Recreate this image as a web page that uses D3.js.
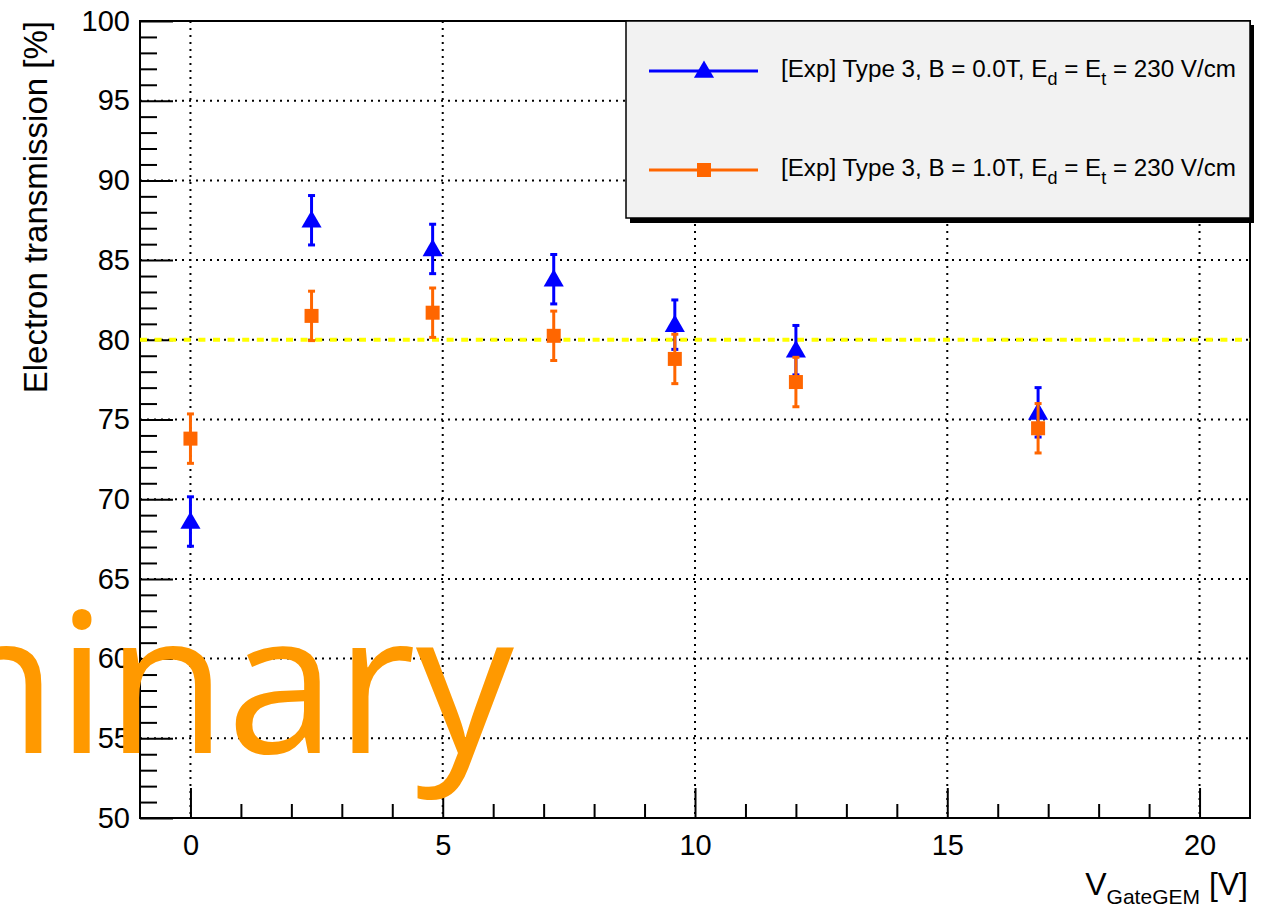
<!DOCTYPE html>
<meta charset="utf-8">
<head>
    <title>Electron transmission vs V_GateGEM</title>
    <script src="https://cdn.jsdelivr.net/npm/d3@7"></script>
</head>

<style>
    body { margin: 0; background: white; }
    svg { font-family: "Liberation Sans", Arial, Helvetica, sans-serif; }
    .grid line { stroke: black; stroke-width: 2; stroke-dasharray: 2,5; }
    .axis path, .axis line { stroke: black; stroke-width: 2; }
    .axis text { font-size: 29px; fill: black; font-family: "Liberation Sans", Arial, sans-serif; }
</style>

<svg width="1277" height="912"></svg>

<script>
    // data
    var vGate = [0, 2.4, 4.8, 7.2, 9.6, 12, 16.8];
    var transB0 = [68.6, 87.5, 85.7, 83.8, 80.95, 79.35, 75.45];
    var errB0 = [1.55, 1.55, 1.55, 1.55, 1.55, 1.55, 1.55];
    var transB1 = [73.8, 81.5, 81.7, 80.25, 78.8, 77.35, 74.45];
    var errB1 = [1.55, 1.55, 1.55, 1.55, 1.55, 1.55, 1.55];
    var xMajor = [0, 5, 10, 15, 20];
    var xMinor = [1, 2, 3, 4, 6, 7, 8, 9, 11, 12, 13, 14, 16, 17, 18, 19];
    var yMajor = [50, 55, 60, 65, 70, 75, 80, 85, 90, 95, 100];
    var refLevel = 80;
    var legendText = [
        ["[Exp] Type 3, B = 0.0T, E", "d", " = E", "t", " = 230 V/cm"],
        ["[Exp] Type 3, B = 1.0T, E", "d", " = E", "t", " = 230 V/cm"]
    ];

    var pad = {l: 140, r: 1250, t: 21, b: 818};
    var svg = d3.select('svg');

    var x = d3.scaleLinear().domain([-1, 21]).range([pad.l, pad.r]);
    var y = d3.scaleLinear().domain([50, 100]).range([pad.b, pad.t]);
    var yMinor = d3.range(50, 101, 1).filter(function (v) { return v % 5 !== 0; });

    // grid
    var grid = svg.append('g').attr('class', 'grid');
    grid.selectAll('.gx').data(xMajor).enter().append('line')
        .attr('x1', function (d) { return x(d); }).attr('x2', function (d) { return x(d); })
        .attr('y1', pad.t).attr('y2', pad.b);
    grid.selectAll('.gy').data(yMajor.slice(1, -1)).enter().append('line')
        .attr('x1', pad.l).attr('x2', pad.r)
        .attr('y1', function (d) { return y(d); }).attr('y2', function (d) { return y(d); });

    // axes (ticks pointing inside)
    svg.append('g').attr('class', 'axis')
        .attr('transform', 'translate(0,' + pad.b + ')')
        .call(d3.axisBottom(x).tickValues(xMajor).tickSize(-30).tickPadding(11).tickFormat(d3.format('d')))
        .call(function (g) { g.select('.domain').remove(); })
        .selectAll('text').attr('dy', '0.9em');
    svg.append('g').attr('class', 'axis')
        .attr('transform', 'translate(0,' + pad.b + ')')
        .call(d3.axisBottom(x).tickValues(xMinor).tickSize(-14).tickFormat(''))
        .call(function (g) { g.select('.domain').remove(); });
    svg.append('g').attr('class', 'axis')
        .attr('transform', 'translate(' + pad.l + ',0)')
        .call(d3.axisLeft(y).tickValues(yMajor).tickSize(-33).tickPadding(10).tickFormat(d3.format('d')))
        .call(function (g) { g.select('.domain').remove(); });
    svg.append('g').attr('class', 'axis')
        .attr('transform', 'translate(' + pad.l + ',0)')
        .call(d3.axisLeft(y).tickValues(yMinor).tickSize(-17).tickFormat(''))
        .call(function (g) { g.select('.domain').remove(); });

    // frame
    svg.append('rect')
        .attr('x', pad.l).attr('y', pad.t).attr('width', pad.r - pad.l).attr('height', pad.b - pad.t)
        .attr('fill', 'none').attr('stroke', 'black').attr('stroke-width', 2);

    // 80% reference
    svg.append('line')
        .attr('x1', pad.l).attr('x2', pad.r).attr('y1', y(refLevel)).attr('y2', y(refLevel))
        .attr('stroke', '#ffff00').attr('stroke-width', 4).attr('stroke-dasharray', '7,7.6');

    var triangle = d3.symbol().type(d3.symbolTriangle).size(175);

    function drawSeries(vals, errs, color, marker) {
        var pts = vGate.map(function (v, i) { return {x: v, y: vals[i], e: errs[i]}; });
        var g = svg.append('g');
        var bars = g.selectAll('g.pt').data(pts).enter().append('g');
        bars.append('line')
            .attr('x1', function (d) { return x(d.x); }).attr('x2', function (d) { return x(d.x); })
            .attr('y1', function (d) { return y(d.y - d.e); }).attr('y2', function (d) { return y(d.y + d.e); })
            .attr('stroke', color).attr('stroke-width', 3);
        [1, -1].forEach(function (s) {
            bars.append('line')
                .attr('x1', function (d) { return x(d.x) - 3.5; }).attr('x2', function (d) { return x(d.x) + 3.5; })
                .attr('y1', function (d) { return y(d.y + s * d.e); }).attr('y2', function (d) { return y(d.y + s * d.e); })
                .attr('stroke', color).attr('stroke-width', 3);
        });
        if (marker === 'tri') {
            bars.append('path').attr('d', triangle)
                .attr('transform', function (d) { return 'translate(' + x(d.x) + ',' + (y(d.y) + 1.5) + ')'; })
                .attr('fill', color);
        } else {
            bars.append('rect')
                .attr('x', function (d) { return x(d.x) - 7; }).attr('y', function (d) { return y(d.y) - 7; })
                .attr('width', 14).attr('height', 14).attr('fill', color);
        }
    }
    drawSeries(transB0, errB0, '#0000ff', 'tri');
    drawSeries(transB1, errB1, '#ff6600', 'sq');

    // legend
    var lg = svg.append('g');
    lg.append('rect').attr('x', 630).attr('y', 25).attr('width', 624).attr('height', 198).attr('fill', 'black');
    lg.append('rect').attr('x', 626).attr('y', 21).attr('width', 624).attr('height', 197)
        .attr('fill', '#f2f2f2').attr('stroke', 'black').attr('stroke-width', 1.5);
    var entries = [{c: '#0000ff', m: 'tri', yy: 71}, {c: '#ff6600', m: 'sq', yy: 170}];
    entries.forEach(function (e, i) {
        lg.append('line').attr('x1', 649).attr('x2', 758).attr('y1', e.yy).attr('y2', e.yy)
            .attr('stroke', e.c).attr('stroke-width', 3);
        if (e.m === 'tri') {
            lg.append('path').attr('d', triangle).attr('transform', 'translate(704,' + (e.yy + 1) + ')').attr('fill', e.c);
        } else {
            lg.append('rect').attr('x', 697).attr('y', e.yy - 7).attr('width', 14).attr('height', 14).attr('fill', e.c);
        }
        var t = lg.append('text').attr('x', 781).attr('y', e.yy + 6).attr('font-size', 24.2);
        legendText[i].forEach(function (s, k) {
            var sp = t.append('tspan').text(s);
            if (k % 2 === 1) sp.attr('font-size', 18).attr('dy', 8);
            else if (k > 0) sp.attr('dy', -8);
        });
    });

    // axis titles
    svg.append('text')
        .attr('transform', 'translate(47,' + pad.t + ') rotate(-90)')
        .attr('text-anchor', 'end').attr('font-size', 33)
        .text('Electron transmission [%]');
    var xt = svg.append('text').attr('x', pad.r - 2).attr('y', 895).attr('text-anchor', 'end').attr('font-size', 32);
    xt.append('tspan').text('V');
    xt.append('tspan').text('GateGEM').attr('font-size', 21).attr('dy', 9);
    xt.append('tspan').text(' [V]').attr('dy', -9);

    // watermark
    svg.append('text')
        .attr('x', 514).attr('y', 753).attr('text-anchor', 'end')
        .attr('font-family', '"Open Sans", sans-serif').attr('font-size', 196)
        .attr('fill', '#ff9900')
        .text('Preliminary');
</script>
